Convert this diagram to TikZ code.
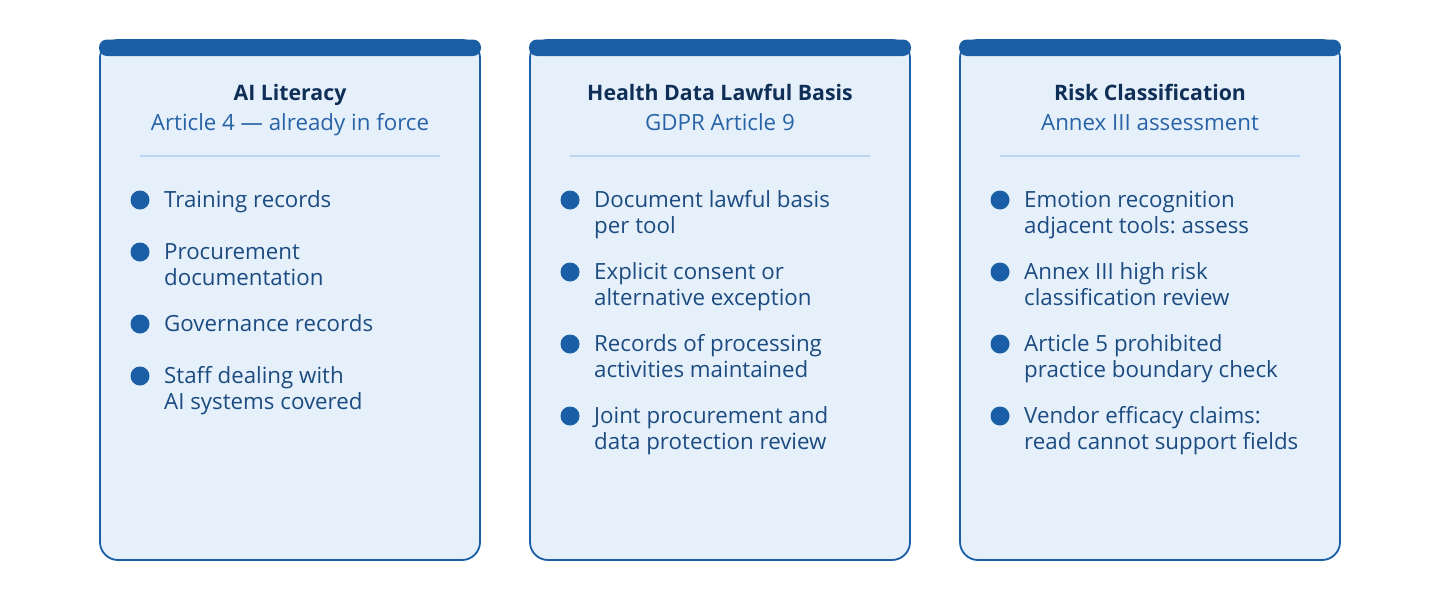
\documentclass[tikz,border=0pt]{standalone}
\usepackage{fontspec}
\setmainfont{Open Sans}
\frenchspacing
\definecolor{barblue}{HTML}{1A5FA5}
\definecolor{cardfill}{HTML}{E6F0FB}
\definecolor{titlecol}{HTML}{0F2F57}
\definecolor{subcol}{HTML}{2763A6}
\definecolor{itemcol}{HTML}{1B4B80}
\definecolor{sepcol}{HTML}{BCD6F2}
\tikzset{
  card/.style={draw=barblue, line width=1.8pt, fill=cardfill, rounded corners=18pt},
  topbar/.style={fill=barblue, rounded corners=8pt},
  titletext/.style={anchor=base, inner sep=0pt, text=titlecol, font=\fontsize{21.3}{26}\selectfont\bfseries},
  subtext/.style={anchor=base, inner sep=0pt, text=subcol, font=\fontsize{22.3}{26}\selectfont},
  itemtext/.style={anchor=base west, inner sep=0pt, text=itemcol, font=\fontsize{22.3}{26}\selectfont},
  bullet/.style={circle, fill=barblue, inner sep=0pt, minimum size=19pt},
  sep/.style={draw=sepcol, line width=1.5pt}
}
\begin{document}
\begin{tikzpicture}[x=1pt,y=-1pt]
\useasboundingbox[fill=white] (0,0) rectangle (1440,600);
% cards
\foreach \cx/\nm in {100/a,530/b,960/c}{
  \draw[card] (\cx,40) rectangle ++(380,520);
  \fill[topbar] (\cx-1,39.5) rectangle ++(382,16.5);
  \draw[sep] (\cx+40,156) -- (\cx+340,156);
}
% card 1
\node[titletext] (t1) at (290,100) {AI Literacy};
\node[subtext] (s1) at (290,130) {Article 4 — already in force};
\node[bullet] (b11) at (140,200) {};
\node[itemtext] (i11) at (164,207.5) {Training records};
\node[bullet] (b12) at (140,252) {};
\node[itemtext] (i12) at (164,259.5) {Procurement};
\node[itemtext] (i12b) at (164,285.5) {documentation};
\node[bullet] (b13) at (140,324) {};
\node[itemtext] (i13) at (164,331.5) {Governance records};
\node[bullet] (b14) at (140,376) {};
\node[itemtext] (i14) at (164,383.5) {Staff dealing with};
\node[itemtext] (i14b) at (164,409.5) {AI systems covered};
% card 2
\node[titletext] (t2) at (720,100) {Health Data Lawful Basis};
\node[subtext] (s2) at (720,130) {GDPR Article 9};
\node[bullet] (b21) at (570,200) {};
\node[itemtext] (i21) at (594,207.5) {Document lawful basis};
\node[itemtext] (i21b) at (594,233.5) {per tool};
\node[bullet] (b22) at (570,272) {};
\node[itemtext] (i22) at (594,279.5) {Explicit consent or};
\node[itemtext] (i22b) at (594,305.5) {alternative exception};
\node[bullet] (b23) at (570,344) {};
\node[itemtext] (i23) at (594,351.5) {Records of processing};
\node[itemtext] (i23b) at (594,377.5) {activities maintained};
\node[bullet] (b24) at (570,416) {};
\node[itemtext] (i24) at (594,423.5) {Joint procurement and};
\node[itemtext] (i24b) at (594,449.5) {data protection review};
% card 3
\node[titletext] (t3) at (1150,100) {Risk Classification};
\node[subtext] (s3) at (1150,130) {Annex III assessment};
\node[bullet] (b31) at (1000,200) {};
\node[itemtext] (i31) at (1024,207.5) {Emotion recognition};
\node[itemtext] (i31b) at (1024,233.5) {adjacent tools: assess};
\node[bullet] (b32) at (1000,272) {};
\node[itemtext] (i32) at (1024,279.5) {Annex III high risk};
\node[itemtext] (i32b) at (1024,305.5) {classification review};
\node[bullet] (b33) at (1000,344) {};
\node[itemtext] (i33) at (1024,351.5) {Article 5 prohibited};
\node[itemtext] (i33b) at (1024,377.5) {practice boundary check};
\node[bullet] (b34) at (1000,416) {};
\node[itemtext] (i34) at (1024,423.5) {Vendor efficacy claims:};
\node[itemtext] (i34b) at (1024,449.5) {read cannot support fields};
\end{tikzpicture}
\end{document}
